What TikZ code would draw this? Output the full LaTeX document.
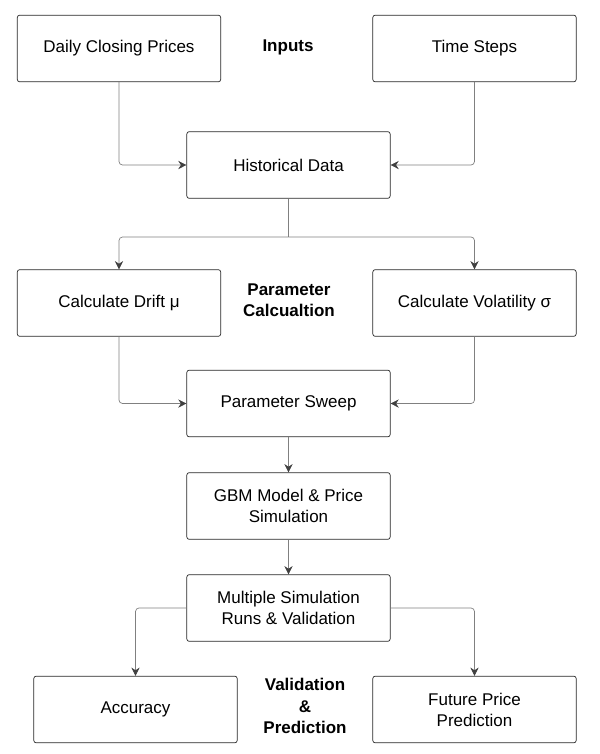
\documentclass[tikz,border=0pt]{standalone}
\usepackage{fontspec}
\setmainfont{Liberation Sans}
\usetikzlibrary{arrows.meta}
\tikzset{box/.style={draw=black!85, semithick, rounded corners=2pt, minimum width=6.1cm, minimum height=2cm, align=center, font=\fontsize{14.5}{18}\selectfont},
  arrow/.style={draw=black!50, semithick, rounded corners=3pt, -{Stealth[length=7pt,width=7pt,black!75]}},
  link/.style={draw=black!50, semithick, rounded corners=3pt},
  tag/.style={font=\bfseries\fontsize{14.5}{18}\selectfont, align=center}}
\begin{document}
\begin{tikzpicture}[x=0.03cm,y=-0.03cm]
\useasboundingbox (0,0) rectangle (600,754);
\node (dcp) [box] at (119,48.5) {Daily Closing Prices};
\node (ts) [box] at (474.5,48.5) {Time Steps};
\node (inp) [tag] at (288,47) {Inputs};
\node (hist) [box] at (288.5,165) {Historical Data};
\node (drift) [box] at (119,303) {Calculate Drift μ};
\node (vol) [box] at (474.5,303) {Calculate Volatility σ};
\node (par) [tag] at (289,300) {Parameter\\Calcualtion};
\node (sweep) [box] at (288.5,403.5) {Parameter Sweep};
\node (gbm) [box] at (288.5,506) {GBM Model \& Price\\Simulation};
\node (multi) [box] at (288.5,608) {Multiple Simulation\\Runs \& Validation};
\node (acc) [box] at (135.5,709.5) {Accuracy};
\node (fut) [box] at (474.5,709.5) {Future Price\\Prediction};
\node (val) [tag] at (305,706) {Validation\\\&\\Prediction};

\coordinate (split) at (288.5,237);
\draw [arrow] (dcp.south) |- (hist.west);
\draw [arrow] (ts.south) |- (hist.east);
\draw [link] (hist.south) -- (split);
\draw [arrow] (split) -| (drift.north);
\draw [arrow] (split) -| (vol.north);
\draw [arrow] (drift.south) |- (sweep.west);
\draw [arrow] (vol.south) |- (sweep.east);
\draw [arrow] (sweep) -- (gbm);
\draw [arrow] (gbm) -- (multi);
\draw [arrow] (multi.west) -| (acc.north);
\draw [arrow] (multi.east) -| (fut.north);
\end{tikzpicture}
\end{document}
